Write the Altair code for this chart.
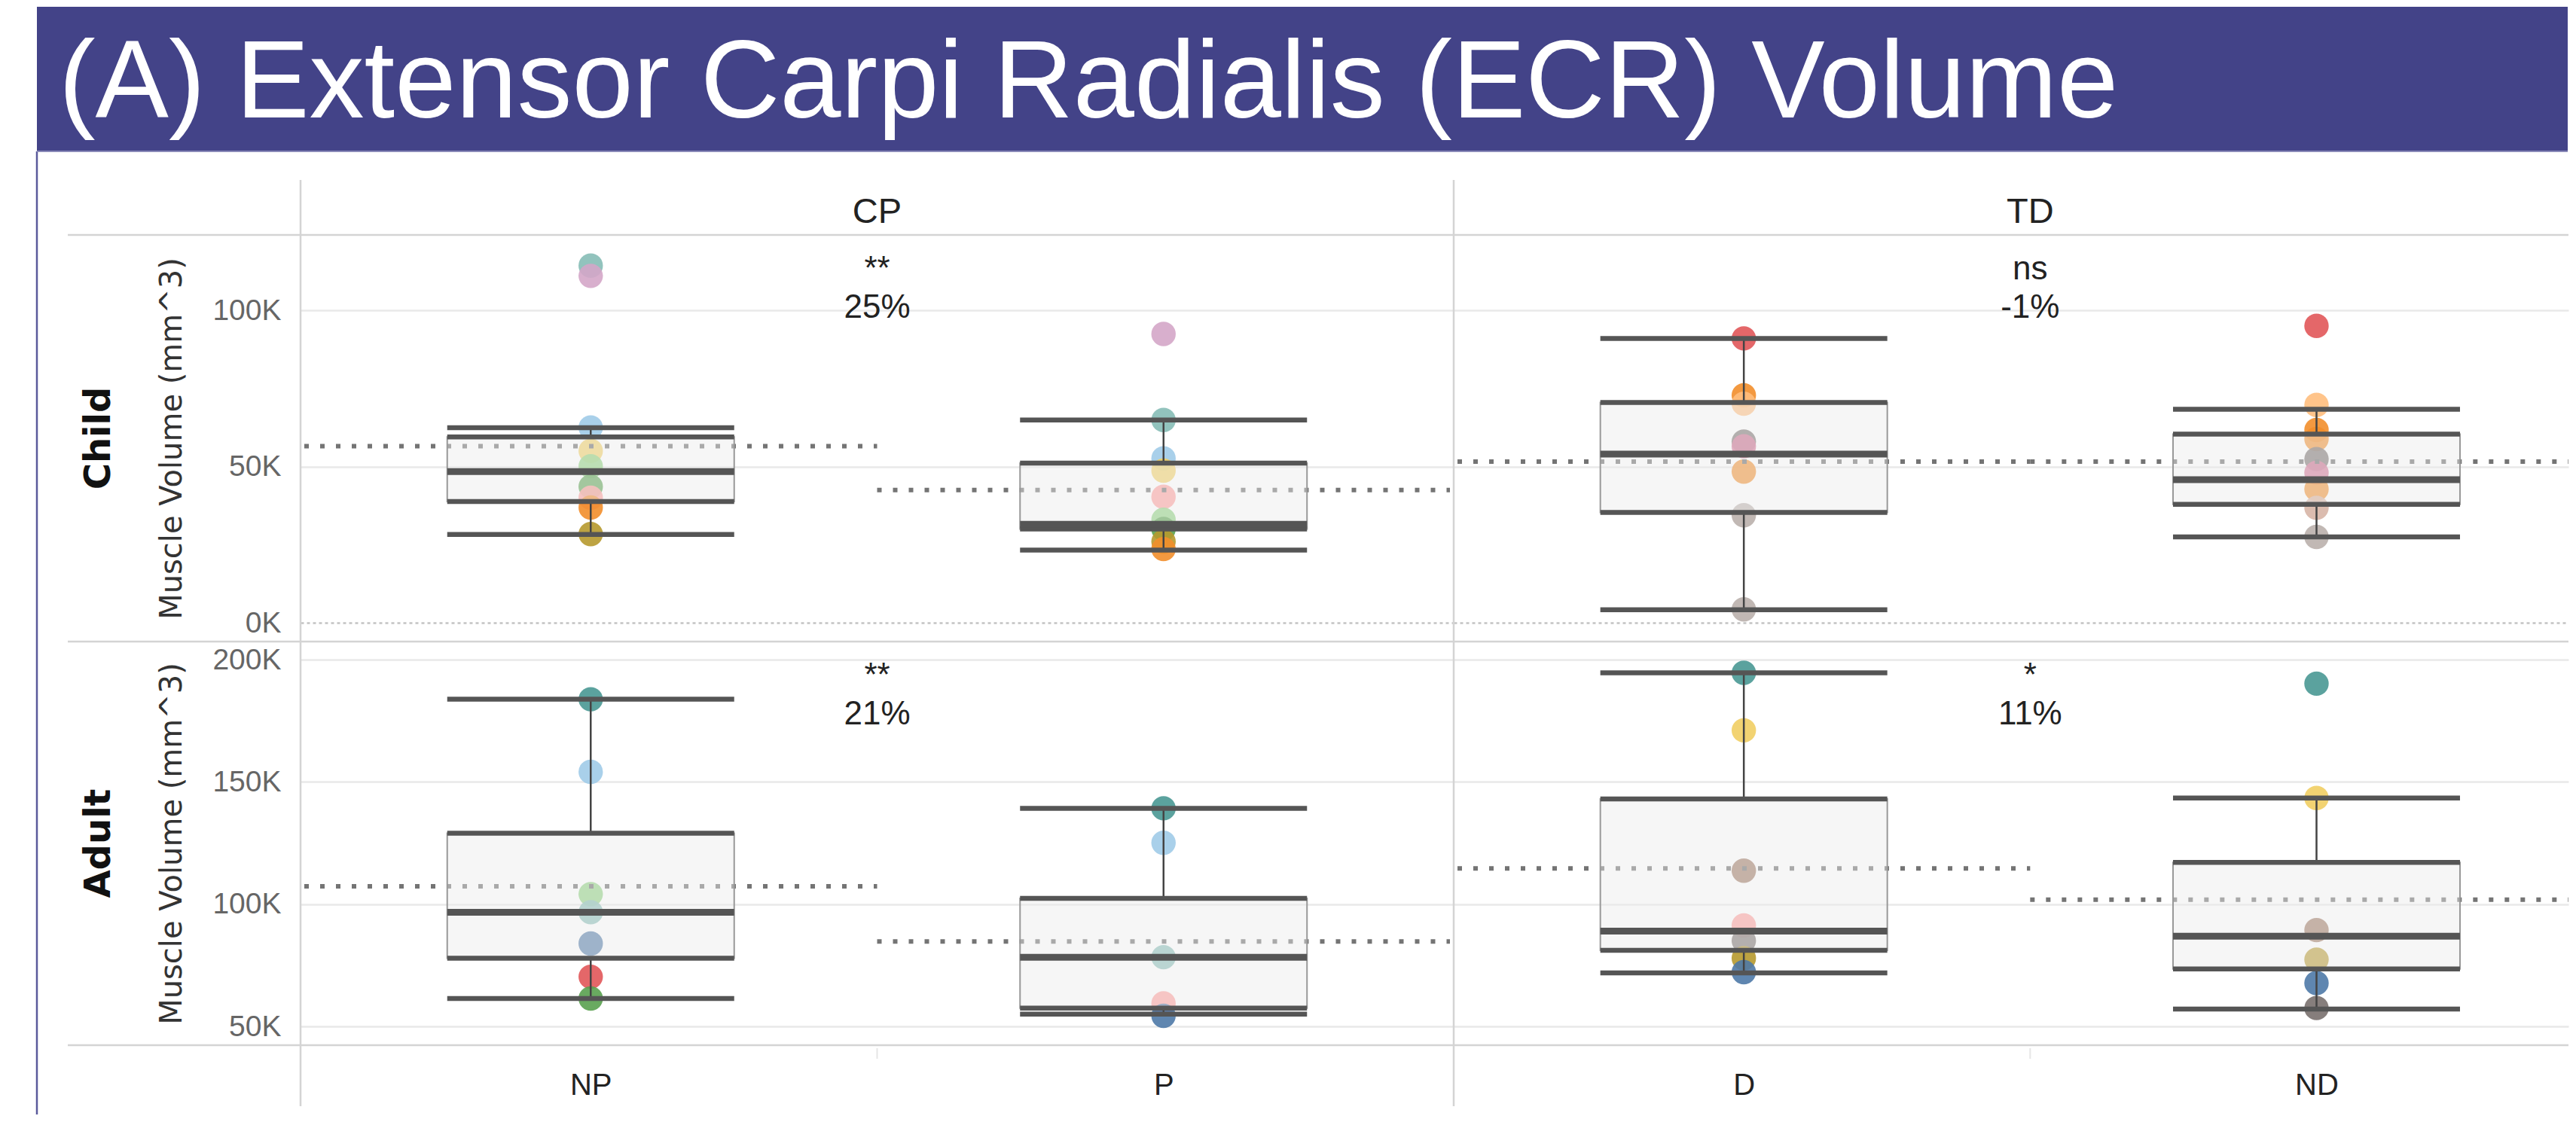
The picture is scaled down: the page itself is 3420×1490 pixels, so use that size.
import json
import altair as alt
import pandas as pd

# ------------------------------------------------------------------ data
TITLE = "(A) Extensor Carpi Radialis (ECR) Volume"
Y_TITLE = "Muscle Volume (mm^3)"

AGES = ["Child", "Adult"]
GROUPS = ["CP", "TD"]
SIDES = {"CP": ["NP", "P"], "TD": ["D", "ND"]}

# individual subjects (values in K mm^3)
CHILD_NP_SUBJ = ["CC01", "CC02", "CC03", "CC04", "CC05", "CC06", "CC07", "CC08", "CC09"]
CHILD_NP_VAL = [114.3, 111.0, 62.5, 55.0, 50.1, 43.6, 40.0, 36.9, 28.4]
CHILD_P_SUBJ = ["CC02", "CC01", "CC03", "CC04", "CC07", "CC05", "CC06", "CC09", "CC08"]
CHILD_P_VAL = [92.4, 64.9, 52.6, 48.7, 40.3, 33.0, 30.0, 26.0, 23.6]
CHILD_D_SUBJ = ["CT01", "CT02", "CT03", "CT04", "CT05", "CT06", "CT07", "CT08"]
CHILD_D_VAL = [91.0, 72.8, 70.1, 58.0, 56.5, 48.4, 34.4, 4.3]
CHILD_ND_SUBJ = ["CT01", "CT03", "CT02", "CT09", "CT04", "CT05", "CT06", "CT10", "CT07"]
CHILD_ND_VAL = [95.0, 69.7, 61.7, 58.8, 52.4, 48.0, 42.8, 36.8, 27.5]
ADULT_NP_SUBJ = ["AC01", "AC02", "AC03", "AC04", "AC05", "AC06", "AC07"]
ADULT_NP_VAL = [183.8, 154.1, 104.1, 96.7, 83.9, 70.3, 61.4]
ADULT_P_SUBJ = ["AC01", "AC02", "AC04", "AC08", "AC05"]
ADULT_P_VAL = [139.2, 125.1, 78.3, 59.4, 54.3]
ADULT_D_SUBJ = ["AT01", "AT02", "AT03", "AT04", "AT05", "AT06", "AT07"]
ADULT_D_VAL = [194.6, 171.1, 113.7, 91.3, 85.0, 77.9, 72.2]
ADULT_ND_SUBJ = ["AT01", "AT02", "AT03", "AT06", "AT07", "AT05"]
ADULT_ND_VAL = [190.2, 143.4, 89.4, 77.3, 67.7, 57.5]

POINT_CELLS = [
    ("Child", "CP", "NP", CHILD_NP_SUBJ, CHILD_NP_VAL),
    ("Child", "CP", "P", CHILD_P_SUBJ, CHILD_P_VAL),
    ("Child", "TD", "D", CHILD_D_SUBJ, CHILD_D_VAL),
    ("Child", "TD", "ND", CHILD_ND_SUBJ, CHILD_ND_VAL),
    ("Adult", "CP", "NP", ADULT_NP_SUBJ, ADULT_NP_VAL),
    ("Adult", "CP", "P", ADULT_P_SUBJ, ADULT_P_VAL),
    ("Adult", "TD", "D", ADULT_D_SUBJ, ADULT_D_VAL),
    ("Adult", "TD", "ND", ADULT_ND_SUBJ, ADULT_ND_VAL),
]

# box plot statistics (K mm^3)
BOX_AGE = ["Child", "Child", "Child", "Child", "Adult", "Adult", "Adult", "Adult"]
BOX_GROUP = ["CP", "CP", "TD", "TD", "CP", "CP", "TD", "TD"]
BOX_SIDE = ["NP", "P", "D", "ND", "NP", "P", "D", "ND"]
BOX_LO = [28.3, 23.3, 4.2, 27.5, 61.4, 55.0, 71.9, 57.1]
BOX_Q1 = [38.8, 30.0, 35.3, 37.9, 77.9, 57.5, 81.1, 73.5]
BOX_MED = [48.4, 31.5, 54.0, 45.8, 96.7, 78.3, 89.0, 86.9]
BOX_Q3 = [59.5, 51.1, 70.5, 60.4, 129.0, 102.4, 143.0, 117.1]
BOX_HI = [62.4, 64.9, 91.0, 68.3, 183.8, 139.2, 194.6, 143.4]
MEAN = [56.5, 42.5, 51.6, 51.6, 107.3, 84.7, 114.6, 101.8]

# significance annotations per pane
ANNOT_AGE = ["Child", "Child", "Adult", "Adult"]
ANNOT_GROUP = ["CP", "TD", "CP", "TD"]
ANNOT_SIG = ["**", "ns", "**", "*"]
ANNOT_PCT = ["25%", "-1%", "21%", "11%"]

Y_TICKS = {"Child": [0, 50, 100], "Adult": [50, 100, 150, 200]}
Y_DOMAIN = {"Child": [-6.0, 124.1], "Adult": [42.3, 207.4]}

# ------------------------------------------------------------------ styles / layout
SUBJECT_COLOR = {
    "CC01": "#86bcb6", "CC02": "#d4a6c8", "CC03": "#a0cbe8", "CC04": "#f1ce63",
    "CC05": "#8cd17d", "CC06": "#59a14f", "CC07": "#ff9d9a", "CC08": "#f28e2b",
    "CC09": "#b6992d",
    "CT01": "#e15759", "CT02": "#f28e2b", "CT03": "#ffbe7d", "CT04": "#79706e",
    "CT05": "#d37295", "CT06": "#f28e2b", "CT07": "#bab0ac", "CT08": "#bab0ac",
    "CT09": "#f28e2b", "CT10": "#d7b5a6",
    "AC01": "#499894", "AC02": "#a0cbe8", "AC03": "#8cd17d", "AC04": "#86bcb6",
    "AC05": "#4e79a7", "AC06": "#e15759", "AC07": "#59a14f", "AC08": "#ff9d9a",
    "AT01": "#499894", "AT02": "#f1ce63", "AT03": "#9d7660", "AT04": "#ff9d9a",
    "AT05": "#79706e", "AT06": "#b6992d", "AT07": "#4e79a7",
}
BANNER = "#434388"
FRAME = "#5a5a9c"
SEP = "#d4d4d4"
BOXLINE = "#555555"

BAND = 765.5                          # width of one category band
PANEL_W = {"CP": 1531, "TD": 1480}    # TD pane is cut by the picture edge
HEIGHTS = {"Child": 540, "Adult": 536}
BOX_W = 381
ROW_HDR = 309        # separator lines start this far left of the panes
FRAME_X = 350        # purple frame line left of the panes
BANNER_TOP = 303     # banner top above the child panes
BANNER_BOT = 111     # banner bottom above the child panes
BANNER_RIGHT = 3010

# ------------------------------------------------------------------ table
def side_pos(group, side):
    return SIDES[group].index(side) + 0.5   # centre of the category band


recs = []
for age, group, side, subj, vals in POINT_CELLS:
    for s, v in zip(subj, vals):
        recs.append(dict(kind="point", age=age, group=group, side=side,
                         pos=side_pos(group, side), subject=s, value=v))
for i in range(len(BOX_SIDE)):
    recs.append(dict(kind="box", age=BOX_AGE[i], group=BOX_GROUP[i], side=BOX_SIDE[i],
                     pos=side_pos(BOX_GROUP[i], BOX_SIDE[i]),
                     lo=BOX_LO[i], q1=BOX_Q1[i], med=BOX_MED[i], q3=BOX_Q3[i],
                     hi=BOX_HI[i], mean=MEAN[i]))
for i in range(len(ANNOT_SIG)):
    recs.append(dict(kind="annot", age=ANNOT_AGE[i], group=ANNOT_GROUP[i],
                     pos=len(SIDES[ANNOT_GROUP[i]]) / 2, sig=ANNOT_SIG[i], pct=ANNOT_PCT[i]))
for age in AGES:
    for group in GROUPS:
        recs.append(dict(kind="cell", age=age, group=group, pos=len(SIDES[group]) / 2))
df = pd.DataFrame(recs)


def make_panel(age, group):
    H = HEIGHTS[age]
    W = PANEL_W[group]
    first = group == "CP"
    bottom = age == "Adult"
    data = df[(df.age == age) & (df.group == group)]

    yscale = alt.Scale(domain=Y_DOMAIN[age], nice=False, zero=False)
    grid_kw = dict(
        values=Y_TICKS[age], grid=True,
        gridColor={"condition": {"test": "datum.value === 0", "value": "#c4c4c4"}, "value": "#e9e9e9"},
        gridDash={"condition": {"test": "datum.value === 0", "value": [4, 4]}, "value": []},
        gridWidth=2.5, domain=False, ticks=False)
    if first:
        yaxis = alt.Axis(labelExpr="datum.value + 'K'", labelPadding=26,
                         labelFont="Liberation Sans", labelFontSize=39, labelColor="#666666",
                         titleFont="DejaVu Sans", titleFontSize=40, titleFontWeight="normal",
                         titleColor="#333333", titlePadding=33, **grid_kw)
        ytitle = Y_TITLE
    else:
        yaxis = alt.Axis(labels=False, **grid_kw)
        ytitle = None

    n = len(SIDES[group])
    if bottom:
        xaxis = alt.Axis(values=[i + 0.5 for i in range(n)],
                         labelExpr=f"{json.dumps(SIDES[group])}[floor(datum.value)]",
                         labelFont="Liberation Sans", labelFontSize=40, labelColor="#222222",
                         ticks=False, domain=False, labelPadding=33, labelAngle=0, grid=False,
                         labelFlush=False)
    else:
        xaxis = None
    xscale = alt.Scale(domain=[0, W / BAND], nice=False, zero=False)

    def Y(f):
        return alt.Y(f"{f}:Q", scale=yscale, axis=yaxis, title=ytitle)

    X = alt.X("pos:Q", scale=xscale, axis=xaxis, title=None)
    base = alt.Chart()

    pts = base.mark_circle(size=1050, opacity=0.9).encode(
        x=X, y=Y("value"),
        color=alt.Color("subject:N", scale=alt.Scale(domain=list(SUBJECT_COLOR.keys()),
                                                     range=list(SUBJECT_COLOR.values())),
                        legend=None)
    ).transform_filter("datum.kind === 'point'")
    boxes = base.transform_filter("datum.kind === 'box'")
    mean = boxes.transform_calculate(
        band_lo="datum.pos - 0.5", band_hi="datum.pos + 0.5"
    ).mark_rule(color="#747474", strokeWidth=6, strokeDash=[6, 15], clip=True).encode(
        x=alt.X("band_lo:Q", scale=xscale, axis=xaxis, title=None),
        x2="band_hi:Q", y=Y("mean"))
    box = boxes.mark_bar(size=BOX_W, fill="#ebebeb", fillOpacity=0.45,
                         stroke="#999999", strokeWidth=2).encode(x=X, y=Y("q1"), y2="q3")
    wh_hi = boxes.mark_rule(color="#444444", strokeWidth=2.5).encode(x=X, y=Y("q3"), y2="hi")
    wh_lo = boxes.mark_rule(color="#444444", strokeWidth=2.5).encode(x=X, y=Y("lo"), y2="q1")
    ticks = [boxes.mark_tick(orient="horizontal", size=BOX_W, thickness=6.5, color=BOXLINE,
                             opacity=1).encode(x=X, y=Y(f))
             for f in ["lo", "q1", "q3", "hi"]]
    med = boxes.mark_tick(orient="horizontal", size=BOX_W, thickness=9, color=BOXLINE,
                          opacity=1).encode(x=X, y=Y("med"))

    ann = base.transform_filter("datum.kind === 'annot'")
    sig = ann.mark_text(font="Liberation Sans", fontSize=44, color="#222222",
                        baseline="alphabetic", align="center").encode(
        text="sig:N", x=X, y=alt.value(59))
    pct = ann.mark_text(font="Liberation Sans", fontSize=44, color="#222222",
                        baseline="alphabetic", align="center").encode(
        text="pct:N", x=X, y=alt.value(110))

    cell = base.transform_filter("datum.kind === 'cell'")
    sep = cell.mark_rule(color=SEP, strokeWidth=2.5)
    x0 = -ROW_HDR if first else 0
    decos = [sep.encode(x=alt.value(x0), x2=alt.value(W), y=alt.value(H))]
    if age == "Child":
        decos.append(sep.encode(x=alt.value(x0), x2=alt.value(W), y=alt.value(0)))
        decos.append(sep.encode(x=alt.value(0), y=alt.value(-73), y2=alt.value(H)))
        decos.append(cell.mark_text(font="Liberation Sans", fontSize=47, color="#222222",
                                    baseline="middle", align="center").encode(
            text="group:N", x=X, y=alt.value(-30)))
    else:
        decos.append(sep.encode(x=alt.value(0), y=alt.value(0), y2=alt.value(H + 81)))
        # faint divider between the two category labels
        decos.append(cell.mark_rule(color="#e6e6e6", strokeWidth=2).encode(
            x=X, y=alt.value(H + 4), y2=alt.value(H + 18)))
    if first:
        top = -BANNER_BOT if age == "Child" else 0
        bot = H if age == "Child" else H + 92
        decos.append(cell.mark_rule(color=FRAME, strokeWidth=2.5).encode(
            x=alt.value(-FRAME_X), y=alt.value(top), y2=alt.value(bot)))
        decos.append(cell.mark_text(font="DejaVu Sans", fontSize=48, fontWeight="bold",
                                    color="#111111", angle=270, baseline="middle",
                                    align="center").encode(
            text="age:N", x=alt.value(-267), y=alt.value(H / 2)))
        if age == "Child":
            decos.append(cell.mark_rect(color=BANNER).encode(
                x=alt.value(-FRAME_X), x2=alt.value(BANNER_RIGHT),
                y=alt.value(-BANNER_TOP), y2=alt.value(-BANNER_BOT)))
            decos.append(cell.mark_rule(color="#8a8ab8", strokeWidth=2).encode(
                x=alt.value(-FRAME_X), x2=alt.value(BANNER_RIGHT), y=alt.value(-BANNER_BOT)))
            decos.append(cell.mark_text(font="Liberation Sans", fontSize=146, color="white",
                                        align="left", baseline="alphabetic").encode(
                text=alt.value(TITLE), x=alt.value(-321), y=alt.value(-156)))

    return alt.layer(pts, mean, box, wh_hi, wh_lo, *ticks, med, sig, pct, *decos,
                     data=data).properties(width=W, height=H)


panels = [make_panel(a, g) for a in AGES for g in GROUPS]
chart = alt.concat(*panels, columns=2, spacing=0, bounds="flush", align="each").properties(
    padding={"left": 39, "top": 0, "right": 0, "bottom": 0}, background="white"
).configure(font="Liberation Sans").configure_view(stroke="transparent")

chart.save("out.html", embed_options={"renderer": "svg", "actions": False})
